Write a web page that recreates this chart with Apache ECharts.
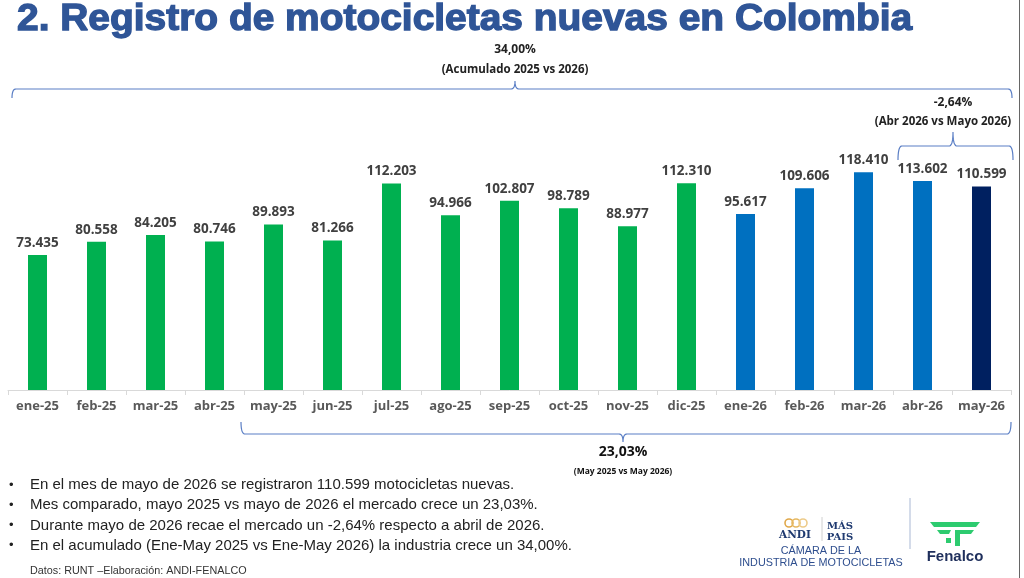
<!DOCTYPE html>
<html>
<head>
<meta charset="utf-8">
<script src="https://cdn.jsdelivr.net/npm/echarts@6/dist/echarts.min.js"></script>
<style>
  html, body { margin: 0; padding: 0; background: #fff; }
  #chart { width: 1024px; height: 578px; }
</style>
</head>
<body>
<div id="chart"></div>
<script>
// categorias (meses)
const months = ['ene-25', 'feb-25', 'mar-25', 'abr-25', 'may-25', 'jun-25', 'jul-25', 'ago-25', 'sep-25',
  'oct-25', 'nov-25', 'dic-25', 'ene-26', 'feb-26', 'mar-26', 'abr-26', 'may-26']
// motocicletas registradas
const registros = [73435, 80558, 84205, 80746, 89893, 81266, 112203, 94966, 102807,
  98789, 88977, 112310, 95617, 109606, 118410, 113602, 110599]
const bullets = [
  'En el mes de mayo de 2026 se registraron 110.599 motocicletas nuevas.',
  'Mes comparado, mayo 2025 vs mayo de 2026 el mercado crece un 23,03%.',
  'Durante mayo de 2026 recae el mercado un -2,64% respecto a abril de 2026.',
  'En el acumulado (Ene-May 2025 vs Ene-May 2026) la industria crece un 34,00%.'
]

const chart = echarts.init(document.getElementById('chart'))
const lblFont = '"Open Sans", sans-serif'
const arial = '"Liberation Sans", Arial, sans-serif'

function barColor(i) {
  if (i === months.length - 1) return '#002060'
  if (months[i].endsWith('-26')) return '#0070C0'
  return '#00B050'
}

function fmt(v) {
  return v.toString().replace(/\B(?=(\d{3})+(?!\d))/g, '.')
}

const option = {
  animation: false,
  grid: { left: 8, right: 13, top: 114, bottom: 188 },
  xAxis: {
    type: 'category',
    data: months,
    axisLine: { lineStyle: { color: '#d9d9d9' } },
    axisTick: { show: true, length: 5, lineStyle: { color: '#d9d9d9' } },
    axisLabel: { interval: 0, color: '#595959', fontWeight: 'bold', fontSize: 13, fontFamily: lblFont, margin: 10 }
  },
  yAxis: { type: 'value', min: 0, max: 150000, show: false, splitLine: { show: false } },
  series: [{
    type: 'bar',
    barWidth: 19,
    data: registros.map((v, i) => ({ value: v, itemStyle: { color: barColor(i) } })),
    label: {
      show: true,
      position: 'top',
      distance: 5,
      color: '#404040',
      fontWeight: 'bold',
      fontSize: 13.5,
      fontFamily: lblFont,
      formatter: p => fmt(p.value)
    }
  }]
}
chart.setOption(option)

// llaves (braces) como polilineas
function quad(p0, p1, p2, out) {
  for (let t = 0.1; t <= 1.0001; t += 0.1) {
    const a = (1 - t) * (1 - t), b = 2 * (1 - t) * t, c = t * t
    out.push([a * p0[0] + b * p1[0] + c * p2[0], a * p0[1] + b * p1[1] + c * p2[1]])
  }
}
function brace(x1, x2, xm, y0, d, hEnd, hPeak) {
  const r = 4, pts = [[x1, y0 + d * hEnd]]
  quad([x1, y0 + d * hEnd], [x1, y0], [x1 + r, y0], pts)
  pts.push([xm - r, y0])
  quad([xm - r, y0], [xm, y0], [xm, y0 - d * hPeak], pts)
  quad([xm, y0 - d * hPeak], [xm, y0], [xm + r, y0], pts)
  pts.push([x2 - r, y0])
  quad([x2 - r, y0], [x2, y0], [x2, y0 + d * hEnd], pts)
  return { type: 'polyline', shape: { points: pts }, style: { stroke: '#5B7FC5', lineWidth: 1.2, fill: null } }
}
const px = i => chart.convertToPixel({ xAxisIndex: 0 }, months[i])
const half = 29.5
const txt = (x, y, s, size, weight, color, align, fam) => ({
  type: 'text', x: x, y: y,
  style: { text: s, fontSize: size, fontWeight: weight || 'normal', fill: color || '#111',
    align: align || 'center', verticalAlign: 'middle', fontFamily: fam || lblFont }
})

const topL = px(0) - half + 4, topR = px(16) + half + 1
const botL = px(4) - half - 3, botR = px(16) + half
const rL = px(15) - half + 5, rR = px(16) + half + 2

const title = txt(17, 20, '2. Registro de motocicletas nuevas en Colombia', 36.5, 'bold', '#2F5597', 'left', arial)
title.style.stroke = '#2F5597'
title.style.lineWidth = 1.3
title.scaleX = 1.066

const green = '#2DCB6F'
const graphics = [
  title,
  txt(515, 50, '34,00%', 12, 'bold', '#222'),
  txt(515, 70, '(Acumulado 2025 vs 2026)', 11.5, 'bold', '#222'),
  brace(topL, topR, 515, 89, 1, 9, 8),
  txt(953, 103, '-2,64%', 12, 'bold', '#222'),
  txt(943, 122, '(Abr 2026 vs Mayo 2026)', 11.5, 'bold', '#222'),
  brace(rL, rR, 953, 146, 1, 14, 14),
  brace(botL, botR, 623, 434, -1, 12, 8),
  txt(623, 452, '23,03%', 14, 'bold', '#111'),
  txt(623, 472, '(May 2025 vs May 2026)', 8.5, 'bold', '#111'),
  txt(30, 571, 'Datos: RUNT \u2013Elaboración: ANDI-FENALCO', 10.8, 'normal', '#333', 'left', arial),
  // logo ANDI
  { type: 'circle', shape: { cx: 789, cy: 523, r: 4 }, style: { stroke: '#E0A84A', lineWidth: 1.6, fill: null } },
  { type: 'circle', shape: { cx: 796, cy: 523, r: 4 }, style: { stroke: '#E6B860', lineWidth: 1.6, fill: null } },
  { type: 'circle', shape: { cx: 803, cy: 523, r: 4 }, style: { stroke: '#EDCB8A', lineWidth: 1.6, fill: null } },
  txt(795, 535, 'ANDI', 10.5, 'bold', '#1F3A70', 'center', '"DejaVu Serif", serif'),
  { type: 'line', shape: { x1: 822, y1: 517, x2: 822, y2: 541 }, style: { stroke: '#d0d0d0', lineWidth: 1 } },
  txt(840, 526, 'MÁS', 10, 'bold', '#1F3A70', 'center', '"DejaVu Serif", serif'),
  txt(840, 537, 'PAIS', 10, 'bold', '#1F3A70', 'center', '"DejaVu Serif", serif'),
  txt(821, 551, 'CÁMARA DE LA', 10.8, 'normal', '#2E4E8E', 'center', arial),
  txt(821, 563, 'INDUSTRIA DE MOTOCICLETAS', 10.8, 'normal', '#2E4E8E', 'center', arial),
  { type: 'line', shape: { x1: 910, y1: 498, x2: 910, y2: 549 }, style: { stroke: '#a9b8d4', lineWidth: 1 } },
  // logo Fenalco
  { type: 'polygon', shape: { points: [[930, 522], [980, 522], [976, 527], [934, 527]] }, style: { fill: green } },
  { type: 'polygon', shape: { points: [[937, 530], [951, 530], [949, 534], [940, 534]] }, style: { fill: green } },
  { type: 'polygon', shape: { points: [[955, 530], [974, 530], [971, 534], [960, 534], [960, 546], [955, 546]] }, style: { fill: green } },
  { type: 'rect', shape: { x: 946, y: 538, width: 5, height: 5 }, style: { fill: green } },
  txt(955, 557, 'Fenalco', 15, 'bold', '#1F2F5C', 'center', arial),
  { type: 'line', shape: { x1: 1019.5, y1: 0, x2: 1019.5, y2: 578 }, style: { stroke: '#666', lineWidth: 1 } }
]
bullets.forEach((b, i) => {
  const y = 485 + i * 20.2
  graphics.push(txt(9, y, '\u2022', 13, 'normal', '#222', 'left', arial))
  graphics.push(txt(30, y, b, 15, 'normal', '#222', 'left', arial))
})
chart.setOption({ graphic: graphics })
</script>
</body>
</html>
